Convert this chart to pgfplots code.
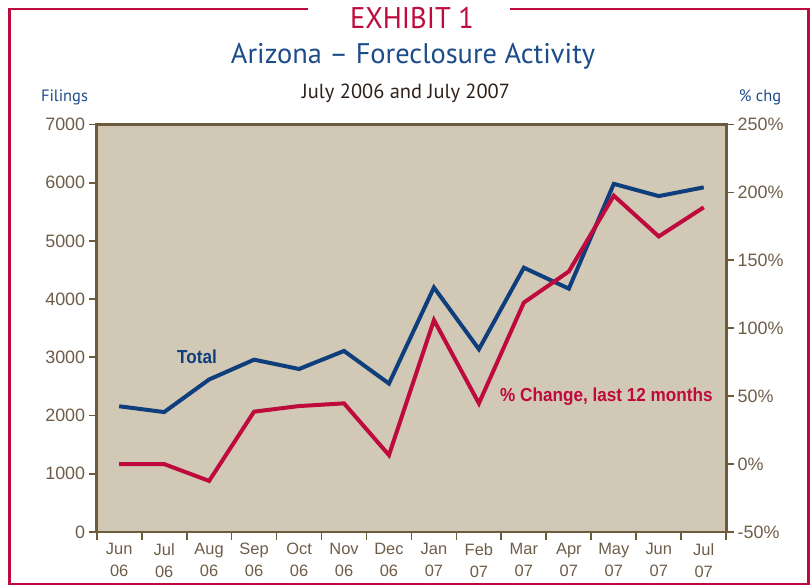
\documentclass[border=0pt]{standalone}
\usepackage{pgfplots}
\pgfplotsset{compat=1.18}
\usepackage{fontspec}
\setmainfont{Liberation Sans}
\newfontfamily\ptsans{PT Sans}
\newfontfamily\ptsansc{PT Sans}[FakeStretch=0.95]
\newfontfamily\condbold{Liberation Sans}[FakeStretch=0.91]
\definecolor{crimson}{HTML}{BE0A3C}
\definecolor{navy}{HTML}{0E3F7C}
\definecolor{tblue}{HTML}{1C4C8A}
\definecolor{bgtan}{HTML}{D1C8B6}
\definecolor{axbrown}{HTML}{6E5A3C}
\definecolor{labc}{HTML}{6E5D48}
\definecolor{subc}{HTML}{2E2119}
\pgfplotstableread{
x total
0 2160
1 2060
2 2620
3 2960
4 2800
5 3110
6 2550
7 4200
8 3140
9 4540
10 4180
11 5980
12 5770
13 5920
}\totaltable
\pgfplotstableread{
x pct
0 0
1 0
2 -12.4
3 38.6
4 42.7
5 44.7
6 6.6
7 106
8 44.7
9 118.9
10 141.8
11 197.6
12 167.6
13 189
}\pcttable
\begin{document}
\begin{tikzpicture}[x=1bp,y=1bp]
\useasboundingbox (0,0) rectangle (811,587);
% frame
\draw[crimson, line width=2.7bp] (308,578) -- (9.5,578) -- (9.5,3) -- (808.5,3) -- (808.5,578) -- (510,578);
% titles
\node[anchor=base, text=crimson, font=\ptsansc\fontsize{30}{30}\selectfont, inner sep=0] at (412,558.7) {EXHIBIT 1};
\node[anchor=base, text=tblue, font=\ptsans\fontsize{28.5}{28.5}\selectfont, inner sep=0] at (413,523.7) {Arizona – Foreclosure Activity};
\node[anchor=base, text=subc, font=\ptsans\fontsize{20.5}{20.5}\selectfont, inner sep=0] at (406,488) {July 2006 and July 2007};
\node[anchor=base, text=tblue, font=\ptsans\fontsize{16.5}{16.5}\selectfont, inner sep=0] at (64.5,485.3) {Filings};
\node[anchor=base, text=tblue, font=\ptsans\fontsize{16.5}{16.5}\selectfont, inner sep=0] at (760,485.3) {\% chg};
\begin{axis}[
  at={(96.7bp,55bp)}, anchor=south west,
  width=629.5bp, height=407.5bp, scale only axis,
  xmin=-0.5, xmax=13.5, ymin=0, ymax=7000,
  axis background/.style={fill=bgtan},
  axis line style={draw=axbrown, line width=2.8bp},
  xtick={0,...,13},
  xticklabels={{Jun\\06},{Jul\\06},{Aug\\06},{Sep\\06},{Oct\\06},{Nov\\06},{Dec\\06},{Jan\\07},{Feb\\07},{Mar\\07},{Apr\\07},{May\\07},{Jun\\07},{Jul\\07}},
  major x tick style={draw=none},
  minor xtick={-0.5,0.5,...,13.5},
  minor x tick style={draw=axbrown, line width=1.8bp},
  ytick={0,1000,...,7000},
  yticklabels={0,1000,2000,3000,4000,5000,6000,7000},
  major y tick style={draw=axbrown, line width=1.8bp},
  tick align=outside,
  major tick length=8bp, minor tick length=8bp,
  xtick pos=left, ytick pos=left,
  xticklabel style={align=center, font=\fontsize{16.5}{22}\selectfont, text=labc},
  yticklabel style={font=\fontsize{18}{18}\selectfont, text=labc},
  clip=false,
]
\addplot[navy, line width=4bp] table[x=x, y=total] {\totaltable};
\node[anchor=base west, text=navy, font=\condbold\bfseries\fontsize{18.9}{18.9}\selectfont, inner sep=0] at (axis cs:1.286,2886) {Total};
\node[anchor=base west, text=crimson, font=\condbold\bfseries\fontsize{18.9}{18.9}\selectfont, inner sep=0] at (axis cs:8.47,2238) {\% Change, last 12 months};
\end{axis}
\begin{axis}[
  at={(96.7bp,55bp)}, anchor=south west,
  width=629.5bp, height=407.5bp, scale only axis,
  xmin=-0.5, xmax=13.5, ymin=-50, ymax=250,
  axis x line=none, axis y line*=right,
  axis line style={draw=axbrown, line width=2.8bp},
  ytick={-50,0,50,100,150,200,250},
  yticklabels={-50\%,0\%,50\%,100\%,150\%,200\%,250\%},
  major y tick style={draw=axbrown, line width=1.8bp},
  tick align=outside, major tick length=8bp,
  yticklabel style={font=\fontsize{18}{18}\selectfont, text=labc},
]
\addplot[crimson, line width=4bp] table[x=x, y=pct] {\pcttable};
\end{axis}
\end{tikzpicture}
\end{document}
